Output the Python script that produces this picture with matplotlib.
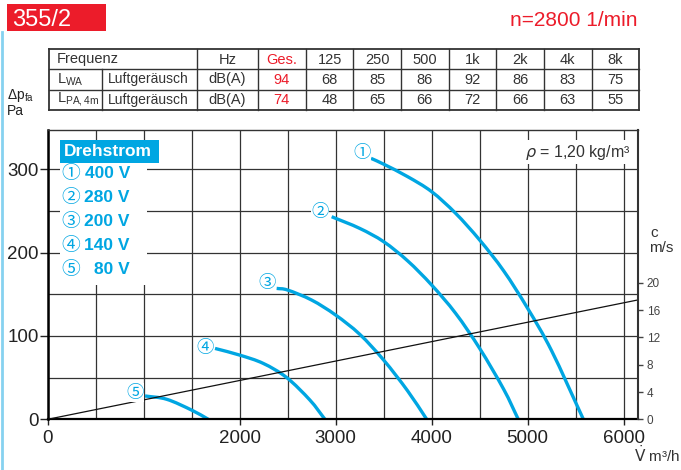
import numpy as np
import matplotlib
matplotlib.use("Agg")
from matplotlib import pyplot as plt
from matplotlib.patches import Rectangle, PathPatch
from matplotlib.path import Path

plt.rcParams['font.family'] = ['Liberation Sans', 'DejaVu Sans']
NARROW = ['Liberation Sans Narrow', 'Liberation Sans', 'DejaVu Sans']
CIRC = ['Noto Sans CJK JP', 'DejaVu Sans']

cyan = "#00a6e2"
red = "#ec1c2a"
ink = "#222222"

# fan curves 355/2, n=2800 1/min : flow in m3/h, pressure in Pa
volts = ["400 V", "280 V", "200 V", "140 V", "80 V"]
marks = ["\u2460", "\u2461", "\u2462", "\u2463", "\u2464"]
q1 = [3368, 3500, 3750, 4000, 4250, 4500, 4750, 5000, 5250, 5580]
p1 = [313, 306, 291, 273, 247, 215, 178, 133, 82, 0]
q2 = [2958, 3250, 3500, 3750, 4000, 4250, 4500, 4750, 4902]
p2 = [243, 229, 213, 190, 161, 127, 85, 36, 0]
q3 = [2385, 2500, 2750, 3000, 3250, 3500, 3750, 3948]
p3 = [157, 155, 143, 125, 102, 71, 34, 0]
q4 = [1743, 2000, 2246, 2490, 2732, 2888]
p4 = [85, 77, 67, 50, 23, 0]
q5 = [1014, 1240, 1500, 1673]
p5 = [28, 24, 11, 0]
curves = [(q1, p1), (q2, p2), (q3, p3), (q4, p4), (q5, p5)]
lab_q = [3271, 2836, 2281, 1639, 909]
lab_p = [320, 249, 164, 85, 32]

# duct velocity line (m3/h -> m/s)
vel_q = [0, 6150]
vel_c = [0, 17.5]

# sound table
freqs = ["125", "250", "500", "1k", "2k", "4k", "8k"]
lwa = [68, 85, 86, 92, 86, 83, 75]
lpa = [48, 65, 66, 72, 66, 63, 55]
lwa_tot = 94
lpa_tot = 74


def smooth_path(x, y):
    # catmull-rom through the read points, as cubic bezier segments
    pts = np.column_stack([x, y]).astype(float)
    ext = np.vstack([2*pts[0] - pts[1], pts, 2*pts[-1] - pts[-2]])
    verts = [pts[0]]
    codes = [Path.MOVETO]
    for i in range(1, len(ext) - 2):
        p0, p1_, p2_, p3 = ext[i-1], ext[i], ext[i+1], ext[i+2]
        verts += [p1_ + (p2_ - p0)/6, p2_ - (p3 - p1_)/6, p2_]
        codes += [Path.CURVE4]*3
    return Path(verts, codes)


W, H = 681, 470
fig = plt.figure(figsize=(W/100, H/100), dpi=100)

ax = fig.add_axes([47.7/W, 50.7/H, 590/W, 289.3/H])
ax.set_xlim(0, 6146)
ax.set_ylim(0, 347)
ax.set_xticks([0, 2000, 3000, 4000, 5000, 6000])
ax.set_xticks(np.arange(0, 6001, 500), minor=True)
ax.set_yticks([0, 100, 200, 300])
ax.set_yticks(np.arange(0, 341, 50), minor=True)
ax.set_axisbelow(True)
ax.grid(which='both', color='#333333', lw=0.9)
ax.tick_params(which='minor', length=0)
ax.tick_params(axis='x', which='major', length=4, width=1, pad=3.5, labelsize=13.5, colors=ink)
ax.tick_params(axis='y', which='major', length=6, width=1, pad=0.5, labelsize=13.5, colors=ink)
ax.spines['left'].set_linewidth(1.8)
ax.spines['bottom'].set_linewidth(1.6)
ax.spines['top'].set_linewidth(1.0)
ax.spines['top'].set_color('#333333')
ax.spines['right'].set_visible(False)

for q, p in curves:
    ax.add_patch(PathPatch(smooth_path(q, p), fc='none', ec=cyan, lw=2.4, capstyle='butt'))

ax2 = ax.twinx()
ax2.set_ylim(0, 42.4)
ax2.set_yticks(range(0, 21, 4))
ax2.tick_params(axis='y', length=3.5, width=1, pad=3, labelsize=8.5, colors='#444444')
for s in ['left', 'top', 'bottom']:
    ax2.spines[s].set_visible(False)
ax2.spines['right'].set_linewidth(1.5)
ax2.spines['right'].set_color('#333333')
ax2.plot(vel_q, vel_c, color='#111111', lw=0.9)

for m, x, y in zip(marks, lab_q, lab_p):
    ax2.text(x, y, m, transform=ax.transData, ha='center', va='center', color=cyan,
             fontsize=12.5, family=CIRC, bbox=dict(fc='white', ec='none', pad=0.3))

# overlay in pixel coords for header, table and legend
ov = fig.add_axes([0, 0, 1, 1])
ov.set_xlim(0, W)
ov.set_ylim(H, 0)
ov.axis('off')
ov.patch.set_visible(False)

ov.plot([2, 2], [32, H], color='#86d2f0', lw=2)
ov.add_patch(Rectangle((6.7, 4), 99.3, 26.7, fc=red, ec='none'))
ov.text(12.5, 25.5, "355/2", color='white', fontsize=17, va='baseline')
ov.text(638, 26.5, "n=2800 1/min", color=red, fontsize=15, ha='right', va='baseline')

# table grid
t_top, t_rows, t_bot = 49.3, [69, 90], 110
cols = [197.3, 257.7, 306, 353.3, 401, 448.7, 496.3, 544, 591.7]
tl, tr = 49.3, 639
for y in [t_top, t_bot]:
    ov.plot([tl, tr], [y, y], color='#333333', lw=1.3)
for y in t_rows:
    ov.plot([tl, tr], [y, y], color='#333333', lw=1.0)
for x in [tl, tr]:
    ov.plot([x, x], [t_top, t_bot], color='#333333', lw=1.3)
for x in cols:
    ov.plot([x, x], [t_top, t_bot], color='#333333', lw=1.0)
ov.plot([101.7, 101.7], [69, t_bot], color='#333333', lw=1.0)

rc = [59.5, 79.5, 100]
tkw = dict(fontsize=10.5, family=NARROW, color='#333333', va='center')
ov.text(56.7, rc[0], "Frequenz", **tkw)
ov.text(56.7, rc[1], r"L$_{\mathregular{WA}}$", **tkw)
ov.text(56.7, rc[2], r"L$_{\mathregular{PA,4m}}$", **tkw)
ov.text(108, rc[1], "Luftgeräusch", **dict(tkw, fontsize=10))
ov.text(108, rc[2], "Luftgeräusch", **dict(tkw, fontsize=10))
mid = [(cols[i] + cols[i+1]) / 2 for i in range(len(cols) - 1)] + [(cols[-1] + tr) / 2]
ov.text(mid[0], rc[0], "Hz", ha='center', **tkw)
ov.text(mid[0], rc[1], "dB(A)", ha='center', **tkw)
ov.text(mid[0], rc[2], "dB(A)", ha='center', **tkw)
rkw = dict(tkw, color=red)
ov.text(mid[1], rc[0], "Ges.", ha='center', **rkw)
ov.text(mid[1], rc[1], str(lwa_tot), ha='center', **rkw)
ov.text(mid[1], rc[2], str(lpa_tot), ha='center', **rkw)
for i, f in enumerate(freqs):
    ov.text(mid[i+2], rc[0], f, ha='center', **tkw)
    ov.text(mid[i+2], rc[1], str(lwa[i]), ha='center', **tkw)
    ov.text(mid[i+2], rc[2], str(lpa[i]), ha='center', **tkw)

ov.text(7, 98.5, r"Δp$_{\mathregular{fa}}$", fontsize=10, color=ink, va='baseline')
ov.text(7, 115, "Pa", fontsize=10, color=ink, va='baseline')
ov.text(650, 237, "c", fontsize=11, color='#333333', va='baseline')
ov.text(649, 252, "m/s", fontsize=11, color='#333333', va='baseline')
ov.text(634, 462, r"$\dot{\mathrm{V}}$ m³/h", fontsize=11, color='#333333', va='baseline')
ov.text(631, 152, r"$\rho$ = 1,20 kg/m³", fontsize=11.5, color='#333333', ha='right', va='center',
        bbox=dict(fc='white', ec='none', pad=1.5))

# legend
ov.add_patch(Rectangle((60, 140), 87, 145, fc='white', ec='none'))
ov.add_patch(Rectangle((60, 140), 99, 22.7, fc=cyan, ec='none'))
ov.text(64, 151.5, "Drehstrom", color='white', fontsize=12.5, fontweight='bold', family=NARROW, va='center')
for i, (m, v) in enumerate(zip(marks, volts)):
    y = 174 + 24 * i
    ov.text(71, y, m, color=cyan, fontsize=13.5, family=CIRC, ha='center', va='center')
    ov.text(130, y, v, color=cyan, fontsize=12.5, fontweight='bold', family=NARROW, ha='right', va='center')

fig.savefig("out.png", dpi=100)
